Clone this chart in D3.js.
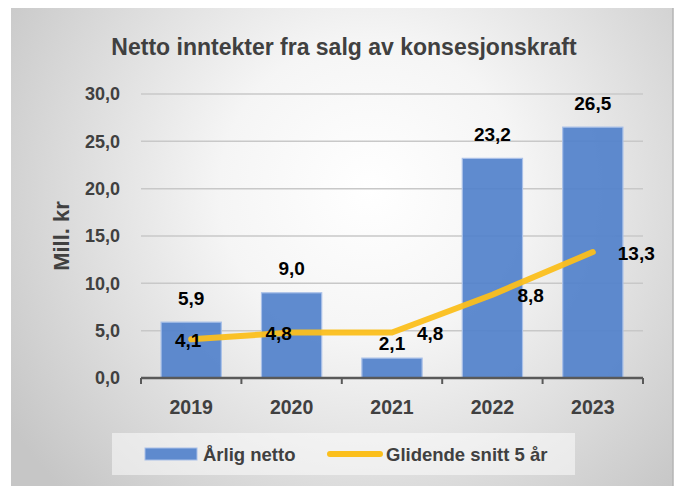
<!DOCTYPE html>
<html>
<head>
<meta charset="utf-8">
<script src="https://cdnjs.cloudflare.com/ajax/libs/d3/7.8.5/d3.min.js"></script>
<style>
  body { margin: 0; background: #fff; }
  text { font-family: "Liberation Sans", Arial, sans-serif; font-weight: bold; }
</style>
</head>
<body>
<div id="chart"></div>
<script>
var years = ["2019", "2020", "2021", "2022", "2023"];
var arligNetto = [5.9, 9.0, 2.1, 23.2, 26.5];
var glidendeSnitt = [4.1, 4.8, 4.8, 8.8, 13.3];
var yTicks = [0, 5, 10, 15, 20, 25, 30];

var svgWidth = 678;
var svgHeight = 486;

var svg = d3.select("#chart")
    .append("svg")
    .attr("width", svgWidth)
    .attr("height", svgHeight);

// background gradient like the Excel chart area
var defs = svg.append("defs");
var grad = defs.append("radialGradient")
    .attr("id", "bg")
    .attr("gradientUnits", "userSpaceOnUse")
    .attr("cx", 370).attr("cy", 190).attr("r", 430);
grad.append("stop").attr("offset", "0").attr("stop-color", "#ffffff");
grad.append("stop").attr("offset", "0.35").attr("stop-color", "#f5f5f5");
grad.append("stop").attr("offset", "1").attr("stop-color", "#c6c6c6");

svg.append("rect")
    .attr("x", 11).attr("y", 8)
    .attr("width", 662).attr("height", 478)
    .attr("fill", "url(#bg)");
svg.append("line")
    .attr("x1", 673).attr("x2", 673).attr("y1", 8).attr("y2", 486)
    .attr("stroke", "#b4b4b4").attr("stroke-width", 1.5);

var x = d3.scaleBand()
    .domain(years)
    .range([141, 643])
    .paddingInner(0.4)
    .paddingOuter(0.2);

var y = d3.scaleLinear()
    .domain([0, 30])
    .range([378, 94]);

// title
svg.append("text")
    .attr("x", 344).attr("y", 55)
    .attr("text-anchor", "middle")
    .attr("font-size", 23)
    .attr("fill", "#404040")
    .text("Netto inntekter fra salg av konsesjonskraft");

// gridlines
svg.append("g")
    .selectAll("line")
    .data(yTicks.slice(1))
    .enter()
    .append("line")
    .attr("x1", 141).attr("x2", 643)
    .attr("y1", d => y(d)).attr("y2", d => y(d))
    .attr("stroke", "#c8c8c8")
    .attr("stroke-width", 1.5);

// y axis labels
var leftAxis = d3.axisLeft(y)
    .tickValues(yTicks)
    .tickSize(0)
    .tickPadding(21)
    .tickFormat(d => d3.format(".1f")(d).replace(".", ","));

var yAxisG = svg.append("g")
    .attr("transform", "translate(141,0)")
    .call(leftAxis);
yAxisG.select(".domain").remove();
yAxisG.selectAll("text")
    .attr("font-size", 18)
    .attr("fill", "#404040")
    .style("font-family", "Liberation Sans, Arial, sans-serif")
    .style("font-weight", "bold");

svg.append("text")
    .attr("transform", "translate(69,236) rotate(-90)")
    .attr("text-anchor", "middle")
    .attr("font-size", 22)
    .attr("fill", "#404040")
    .text("Mill. kr");

// bars
svg.append("g")
    .selectAll("rect")
    .data(arligNetto)
    .enter()
    .append("rect")
    .attr("x", (d, i) => x(years[i]))
    .attr("y", d => y(d))
    .attr("width", x.bandwidth())
    .attr("height", d => y(0) - y(d))
    .attr("fill", "#5181cb")
    .attr("fill-opacity", 0.92)
    .attr("stroke", "#a9c0e8")
    .attr("stroke-width", 1.2);

// x axis
var bottomAxis = d3.axisBottom(x).tickSize(0).tickPadding(22);
var xAxisG = svg.append("g")
    .attr("transform", "translate(0,378)")
    .call(bottomAxis);
xAxisG.select(".domain")
    .attr("stroke", "#595959")
    .attr("stroke-width", 2.5)
    .attr("d", "M141,0H643");
xAxisG.selectAll("text")
    .attr("font-size", 19.5)
    .attr("fill", "#404040")
    .style("font-family", "Liberation Sans, Arial, sans-serif")
    .style("font-weight", "bold");

// category separator ticks
var bounds = years.map(d => x(d) - x.step() * x.paddingInner() / 2);
bounds.push(643);
xAxisG.selectAll(".sep")
    .data(bounds)
    .enter()
    .append("line")
    .attr("class", "sep")
    .attr("x1", d => d).attr("x2", d => d)
    .attr("y1", 0).attr("y2", 6)
    .attr("stroke", "#595959")
    .attr("stroke-width", 2);

// moving average line
var line = d3.line()
    .x((d, i) => x(years[i]) + x.bandwidth() / 2)
    .y(d => y(d));

svg.append("path")
    .datum(glidendeSnitt)
    .attr("d", line)
    .attr("fill", "none")
    .attr("stroke", "#fbbf1c")
    .attr("stroke-opacity", 0.95)
    .attr("stroke-width", 6)
    .attr("stroke-linecap", "round")
    .attr("stroke-linejoin", "round");

var fmt = d => d3.format(".1f")(d).replace(".", ",");

// bar labels
svg.append("g")
    .selectAll("text")
    .data(arligNetto)
    .enter()
    .append("text")
    .attr("x", (d, i) => x(years[i]) + x.bandwidth() / 2)
    .attr("y", (d, i) => y(d) - (i === 2 ? 15 : 24))
    .attr("dy", "0.35em")
    .attr("text-anchor", "middle")
    .attr("font-size", 19)
    .attr("fill", "#000")
    .text(fmt);

// line labels
svg.append("g")
    .selectAll("text")
    .data(glidendeSnitt)
    .enter()
    .append("text")
    .attr("x", (d, i) => {
        var cx = x(years[i]) + x.bandwidth() / 2;
        if (i === 0) return cx - 3;
        if (i === 1) return cx - 13;
        return cx + 25;
    })
    .attr("y", d => y(d) + 1)
    .attr("dy", "0.35em")
    .attr("text-anchor", (d, i) => i < 2 ? "middle" : "start")
    .attr("font-size", 19)
    .attr("fill", "#000")
    .text(fmt);

// legend
var legend = svg.append("g");
legend.append("rect")
    .attr("x", 112).attr("y", 433)
    .attr("width", 463).attr("height", 42)
    .attr("fill", "#ffffff")
    .attr("fill-opacity", 0.5);
legend.append("rect")
    .attr("x", 145).attr("y", 448)
    .attr("width", 52).attr("height", 12)
    .attr("fill", "#5181cb")
    .attr("fill-opacity", 0.92)
    .attr("stroke", "#a9c0e8")
    .attr("stroke-width", 1);
legend.append("text")
    .attr("x", 203).attr("y", 455)
    .attr("dy", "0.35em")
    .attr("font-size", 18.5)
    .attr("fill", "#404040")
    .text("Årlig netto");
legend.append("line")
    .attr("x1", 330).attr("x2", 380)
    .attr("y1", 454).attr("y2", 454)
    .attr("stroke", "#fbbf1c")
    .attr("stroke-width", 6)
    .attr("stroke-linecap", "round");
legend.append("text")
    .attr("x", 386).attr("y", 455)
    .attr("dy", "0.35em")
    .attr("font-size", 18.5)
    .attr("fill", "#404040")
    .text("Glidende snitt 5 år");
</script>
</body>
</html>
